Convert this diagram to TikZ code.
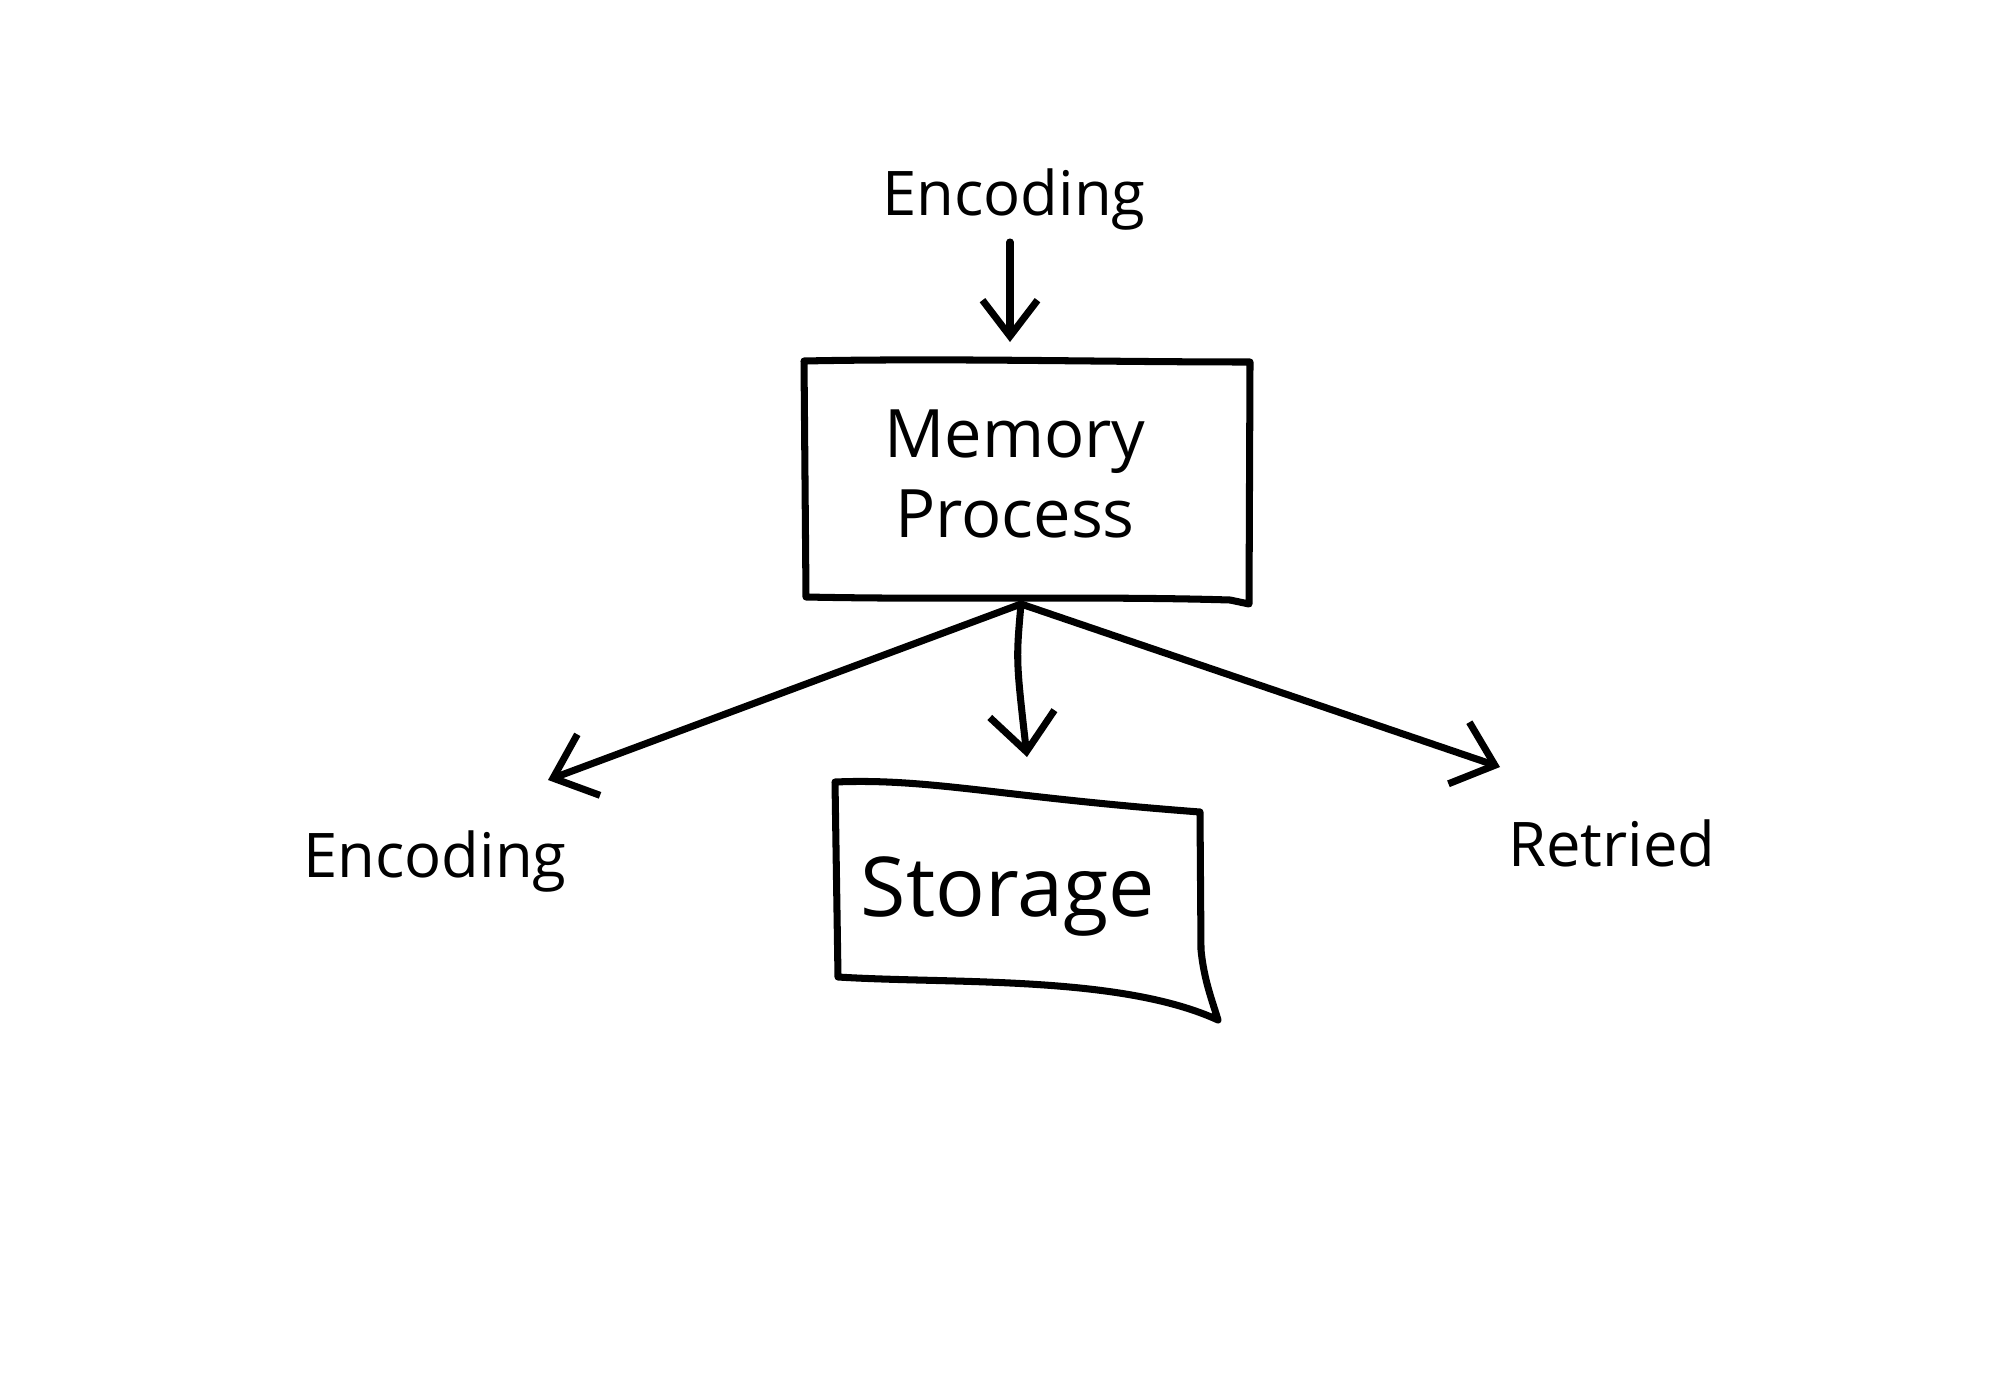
\documentclass[tikz,border=0pt]{standalone}
\usepackage{fontspec}
\setmainfont{Open Sans}
\newfontfamily\handfont{Open Sans}
\usetikzlibrary{arrows.meta}
\begin{document}
\begin{tikzpicture}[x=0.01cm,y=-0.01cm,
  ink/.style={line width=2pt,line cap=round,line join=round,black},
  arr/.style={ink,-{Straight Barb[length=3.8mm,width=6.5mm,line width=2pt]}},
  lbl/.style={font=\handfont\fontsize{17.5}{21}\selectfont,inner sep=0pt},
  boxtxt/.style={font=\handfont\fontsize{19}{23}\selectfont,align=center,inner sep=0pt}]
\useasboundingbox[fill=white] (0,0) rectangle (2000,1400);
% labels
\node[lbl] (encT) at (1014,200) {Encoding};
\node[lbl] (encL) at (435,862) {Encoding};
\node[lbl] (ret) at (1612,843) {Retried};
% Memory Process box
\node[boxtxt,minimum width=4.45cm,minimum height=2.4cm] (mem) at (1015,474) {Memory\\Process};
\draw[ink] (804,361) .. controls (950,358) and (1100,362) .. (1250,362) -- (1249,604) -- (1230,600) .. controls (1100,596) and (950,600) .. (806,597) -- cycle;
% Storage box
\node[boxtxt,font=\handfont\fontsize{23.5}{28}\selectfont] (sto) at (1008,896) {Storage};
\draw[ink] (835,782) .. controls (930,778) and (1000,797) .. (1200,812)
  -- (1201,950) .. controls (1204,980) and (1212,1000) .. (1218,1020)
  .. controls (1120,975) and (950,984) .. (838,977) -- cycle;
% connectors
\coordinate (memb) at (1021,604);
\coordinate (tailT) at (1010,242);
\coordinate (tipT) at (1010,342);
\coordinate (tipL) at (548,780);
\coordinate (tipC) at (1027,757);
\coordinate (tipR) at (1500,767);
\draw[ink,-{Straight Barb[length=3.6mm,width=5.5mm,line width=2pt]}] (tailT) -- (tipT);
\draw[arr] (memb) -- (tipL);
\draw[arr] (memb) .. controls (1016,660) .. (tipC);
\draw[arr] (memb) -- (tipR);
\end{tikzpicture}
\end{document}
